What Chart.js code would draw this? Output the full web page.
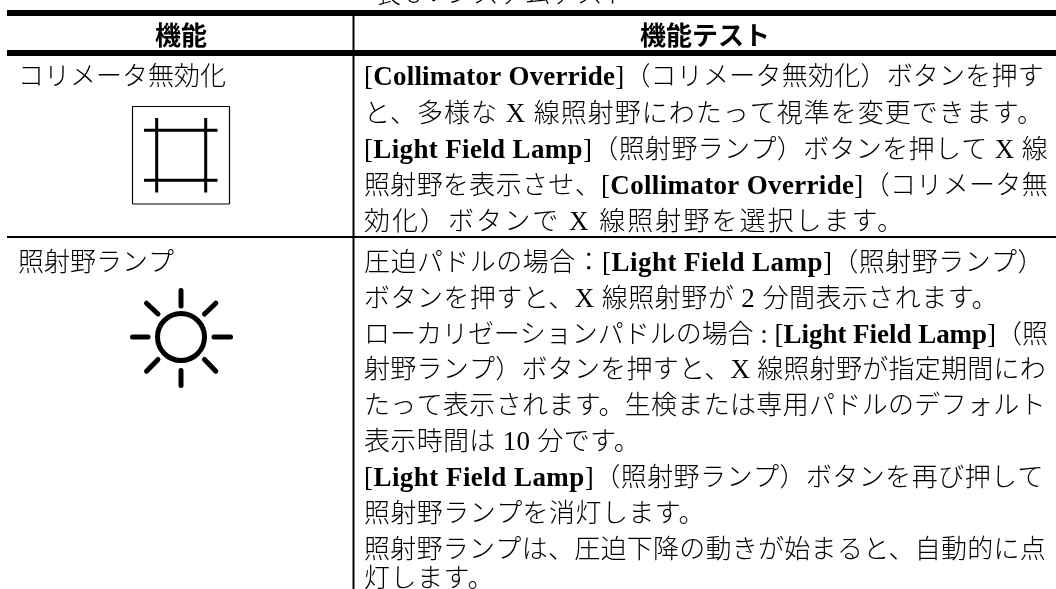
<!DOCTYPE html>
<html lang="ja"><head><meta charset="utf-8">
<style>html,body{margin:0;padding:0;background:#fff}#w{width:1056px;height:589px;position:relative}canvas{display:block}</style>
<script src="https://cdn.jsdelivr.net/npm/chart.js@4/dist/chart.umd.min.js"></script>
</head><body><div id="w"><canvas id="c" width="1056" height="589"></canvas></div>
<script>
// Table content
const caption = "表 8：システムテスト";
const headers = ["機能", "機能テスト"];
const features = ["コリメータ無効化", "照射野ランプ"];
// **...** marks bold Latin runs
const testsRow1 = [
 "[**Collimator Override**]（コリメータ無効化）ボタンを押す",
 "と、多様な X 線照射野にわたって視準を変更できます。",
 "[**Light Field Lamp**]（照射野ランプ）ボタンを押して X 線",
 "照射野を表示させ、[**Collimator Override**]（コリメータ無",
 "効化）ボタンで X 線照射野を選択します。"];
const testsRow2 = [
 "圧迫パドルの場合：[**Light Field Lamp**]（照射野ランプ）",
 "ボタンを押すと、X 線照射野が 2 分間表示されます。",
 "ローカリゼーションパドルの場合 : [**Light Field Lamp**]（照",
 "射野ランプ）ボタンを押すと、X 線照射野が指定期間にわ",
 "たって表示されます。生検または専用パドルのデフォルト",
 "表示時間は 10 分です。",
 "[**Light Field Lamp**]（照射野ランプ）ボタンを再び押して",
 "照射野ランプを消灯します。",
 "照射野ランプは、圧迫下降の動きが始まると、自動的に点",
 "灯します。"];

// Layout, in axis units (the axes run 0-1056 and 0-589)
const row1Y = [85,122,158,194,230];
const row2Y = [271,307,343,378,414,450,486,522,558,587];
const row1R = [1044,1044,1048,1048,905];
const row2R = [1044,998,1048,1046,1046,640,1044,705,1046,494];
const colX = 364;
const JP = '"Noto Sans CJK JP"', LAT = '"Liberation Serif"';

function seg(a,b,c,d,w,cap){return {type:'scatter',showLine:true,data:[{x:a,y:b},{x:c,y:d}],borderColor:'#000',borderWidth:w,pointRadius:0,borderCapStyle:cap||'butt',tension:0};}
const rules = [
 seg(7,13,1056,13,6), seg(7,53,1056,53,6), seg(7,237,1056,237,2), seg(353.5,16,353.5,589,2)];
const boxIcon = [
 seg(132.5,106.5,229.5,106.5,1.2),seg(229.5,106.5,229.5,204,1.2),seg(229.5,204,132.5,204,1.2),seg(132.5,204,132.5,106.5,1.2),
 seg(156.7,118,156.7,192.5,3),seg(205.7,118,205.7,192.5,3),seg(144,130.3,217.5,130.3,3),seg(144,180.3,217.5,180.3,3)];
const sunIcon = [
 seg(181,290.5,181,306,5,'round'),seg(181,370.5,181,385.5,5,'round'),seg(132.5,337,148,337,5,'round'),seg(214,337,230.5,337,5,'round'),
 seg(146.5,303.2,158,314,5,'round'),seg(215.8,303.2,204.5,314,5,'round'),seg(146.5,371.2,158,359.5,5,'round'),seg(215.8,371.2,204.5,359.5,5,'round'),
 {type:'scatter',data:[{x:181,y:337}],pointRadius:23.5,pointBorderWidth:5,pointBorderColor:'#000',pointBackgroundColor:'rgba(0,0,0,0)'}];

function runs(s){return s.split('**').map((t,i)=>({t,b:i%2===1}));}
function drawLine(ctx,x,y,s,right,size){
 const parts=[];
 runs(s).forEach(r=>{ if(r.b){parts.push({t:r.t,f:`bold ${size+1}px ${LAT}`});return;}
  (r.t.match(/[\x20-\x7e]+|[^\x20-\x7e]+/g)||[]).forEach(t=>{
   const ascii=/^[\x20-\x7e]+$/.test(t);
   parts.push({t,f:ascii?`${size+1}px ${LAT}`:`300 ${size}px ${JP}`});});});
 ctx.letterSpacing='0px';
 let w=0,n=0;
 parts.forEach(p=>{ctx.font=p.f;w+=ctx.measureText(p.t).width;n+=[...p.t].length;});
 const ls=right?(right-x-w)/Math.max(n,1):0;
 ctx.letterSpacing=ls.toFixed(3)+'px';
 let cx=x;
 parts.forEach(p=>{ctx.font=p.f;ctx.fillText(p.t,cx,y);cx+=ctx.measureText(p.t).width;});
 ctx.letterSpacing='0px';
}
const tableText={id:'tableText',afterDatasetsDraw(ch){
 const c=ch.ctx,X=ch.scales.x,Y=ch.scales.y;
 c.save();c.fillStyle='#000';c.textBaseline='alphabetic';c.textAlign='left';
 c.font=`300 26px ${JP}`;
 c.fillText(caption,X.getPixelForValue(375),Y.getPixelForValue(3));
 c.font=`bold 26px ${JP}`;
 c.textAlign='center';
 c.fillText(headers[0],X.getPixelForValue(181),Y.getPixelForValue(45));
 c.fillText(headers[1],X.getPixelForValue(705),Y.getPixelForValue(45));
 c.textAlign='left';
 c.font=`300 26px ${JP}`;
 c.fillText(features[0],X.getPixelForValue(18),Y.getPixelForValue(85));
 c.fillText(features[1],X.getPixelForValue(18),Y.getPixelForValue(271));
 testsRow1.forEach((s,i)=>drawLine(c,X.getPixelForValue(colX),Y.getPixelForValue(row1Y[i]),s,row1R[i],26));
 testsRow2.forEach((s,i)=>drawLine(c,X.getPixelForValue(colX),Y.getPixelForValue(row2Y[i]),s,row2R[i],26));
 c.restore();
}};
new Chart(document.getElementById('c'),{
 type:'scatter',
 data:{datasets:[...rules,...boxIcon,...sunIcon]},
 options:{responsive:false,animation:false,layout:{padding:0,autoPadding:false},
  clip:false,
  plugins:{legend:{display:false},tooltip:{enabled:false},title:{display:false}},
  scales:{x:{type:'linear',min:0,max:1056,display:false},y:{type:'linear',min:0,max:589,reverse:true,display:false}}},
 plugins:[tableText]});
</script></body></html>
